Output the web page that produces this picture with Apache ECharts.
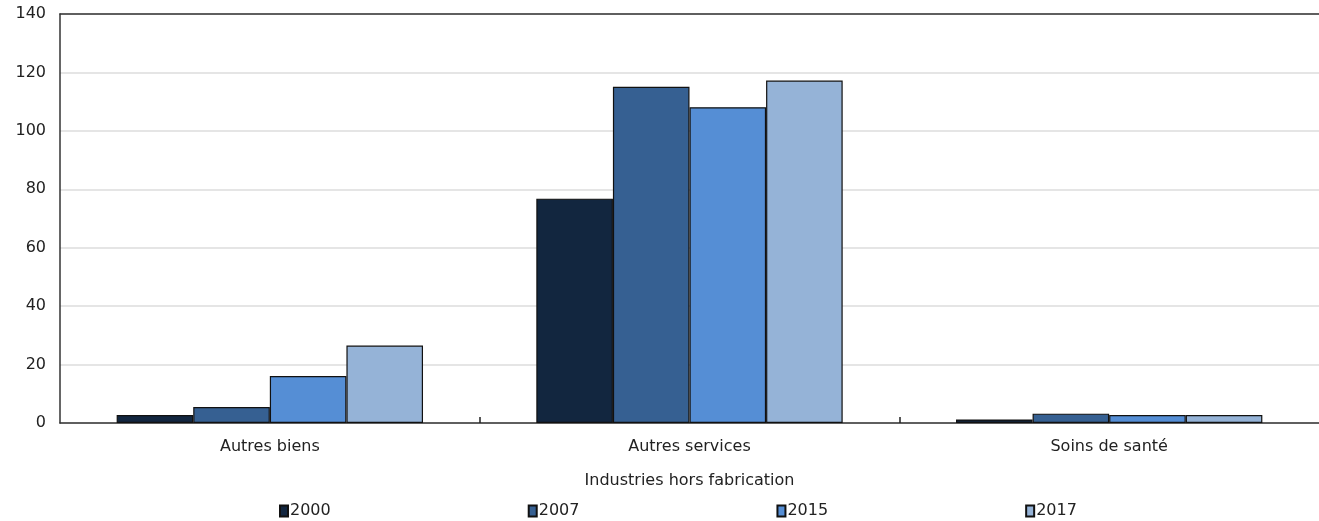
<!DOCTYPE html>
<html>
<head>
<meta charset="utf-8">
<script src="https://cdn.jsdelivr.net/npm/echarts@6/dist/echarts.min.js"></script>
<style>
  html, body { margin: 0; padding: 0; background: #fff; }
  #chart { width: 1319px; height: 521px; }
</style>
</head>
<body>
<div id="chart"></div>
<script>
// Industries hors fabrication, by year
const categories = ['Autres biens', 'Autres services', 'Soins de santé'];
const years = ['2000', '2007', '2015', '2017'];
const values2000 = [2.7, 76.8, 1.2];
const values2007 = [5.5, 115.1, 3.2];
const values2015 = [16.1, 108.1, 2.7];
const values2017 = [26.5, 117.2, 2.7];
const yTicks = [0, 20, 40, 60, 80, 100, 120, 140];

const colors = ['#12263f', '#366092', '#558ed5', '#95b3d7'];
const seriesValues = [values2000, values2007, values2015, values2017];
const FONT = '"DejaVu Sans", Verdana, sans-serif';
const FS = 16;

const chart = echarts.init(document.getElementById('chart'));
chart.setOption({
  animation: false,
  textStyle: { fontFamily: FONT },
  grid: { left: 60, right: 0, top: 14, bottom: 98 },
  legend: {
    bottom: -3,
    left: 274,
    itemWidth: 8,
    itemHeight: 11,
    itemGap: 197,
    icon: 'rect',
    textStyle: { fontFamily: FONT, fontSize: FS, color: '#222', padding: [0, 0, 0, -3] },
    data: years
  },
  xAxis: [{
    type: 'category',
    data: categories,
    name: 'Industries hors fabrication',
    nameLocation: 'middle',
    nameGap: 50,
    nameTextStyle: { fontFamily: FONT, fontSize: FS, color: '#222' },
    axisLine: { lineStyle: { color: '#333', width: 1.5 } },
    axisTick: { show: false },
    axisLabel: { fontFamily: FONT, fontSize: FS, color: '#222', margin: 16 }
  }, {
    type: 'category',
    position: 'top',
    data: categories,
    axisLine: { lineStyle: { color: '#333', width: 1.5 } },
    axisTick: { show: false },
    axisLabel: { show: false }
  }, {
    // category separators between groups only
    type: 'value',
    position: 'bottom',
    min: 0,
    max: categories.length,
    axisLine: { show: false },
    axisLabel: { show: false },
    splitLine: { show: false },
    axisTick: {
      show: true, inside: true, length: 6,
      customValues: categories.slice(1).map((c, i) => i + 1),
      lineStyle: { color: '#222', width: 1.5 }
    }
  }],
  yAxis: {
    type: 'value',
    min: yTicks[0],
    max: yTicks[yTicks.length - 1],
    interval: 20,
    axisLine: { show: true, lineStyle: { color: '#333', width: 1.5 } },
    axisTick: { show: false },
    axisLabel: { fontFamily: FONT, fontSize: FS, color: '#222', margin: 14 },
    splitLine: { lineStyle: { color: '#dcdcdc', width: 1.5 } }
  },
  series: years.map((y, i) => ({
    name: y,
    type: 'bar',
    data: seriesValues[i],
    barGap: '0%',
    barCategoryGap: '27%',
    itemStyle: { color: colors[i], borderColor: '#111', borderWidth: 1.2 }
  }))
});
</script>
</body>
</html>
